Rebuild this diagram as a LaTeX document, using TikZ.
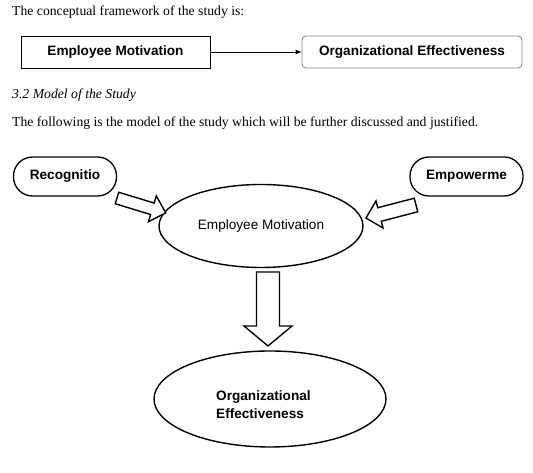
\documentclass[tikz,border=0pt]{standalone}
\usepackage{fontspec}
\setmainfont{Liberation Serif}
\setsansfont{Liberation Sans}
\usetikzlibrary{arrows.meta,shapes.geometric}
\newcommand\blockarrow[6]{% tail coordinate, angle, length, shaft width, head width, head length
  \begin{scope}[shift={(#1)},rotate=#2]
    \draw[blockarr] (0,{-#4/2}) -- ({#3-#6},{-#4/2}) -- ({#3-#6},{-#5/2}) -- (#3,0)
      -- ({#3-#6},{#5/2}) -- ({#3-#6},{#4/2}) -- (0,{#4/2}) -- cycle;
  \end{scope}}
\begin{document}
\begin{tikzpicture}[x=1pt,y=1pt,
  bodytext/.style={anchor=base west,inner sep=0pt,font=\fontsize{13.7}{16}\selectfont},
  box/.style={draw,line width=0.8pt,minimum width=189pt,minimum height=32pt,inner sep=0pt,
    font=\sffamily\bfseries\fontsize{13.6}{16}\selectfont},
  pill/.style={draw,line width=1.3pt,rounded corners=19pt,minimum height=39pt,inner sep=0pt,
    font=\sffamily\bfseries\fontsize{13.6}{16}\selectfont},
  ell/.style={ellipse,draw,line width=1.4pt,inner sep=0pt},
  blockarr/.style={draw,line width=1.4pt,line join=miter,fill=white}]
\useasboundingbox (0,0) rectangle (533,473);
\node[bodytext] (t1) at (12,457) {The conceptual framework of the study is:};
\node[box] (em) at (115.5,421) {Employee Motivation};
\node[box,rounded corners=4pt,draw=gray,minimum width=220pt] (oe) at (412,421) {Organizational Effectiveness};
\draw[line width=0.8pt,-{Latex[length=6pt,width=5pt]}] (em) -- (oe);
\node[bodytext,font=\itshape\fontsize{13.7}{16}\selectfont] (t2) at (12,374) {3.2 Model of the Study};
\node[bodytext] (t3) at (12,346) {The following is the model of the study which will be further discussed and justified.};
\node[pill,minimum width=103pt] (rec) at (65,296.5) {Recognitio};
\node[pill,minimum width=113pt] (emp) at (466.5,296.5) {Empowerme};
\node[ell,minimum width=204pt,minimum height=83pt,font=\sffamily\fontsize{13.6}{16}\selectfont] (mot) at (261,247) {Employee Motivation};
\node[ell,minimum width=232pt,minimum height=96pt] (org) at (270,74) {};
\node[anchor=north west,inner sep=0pt,align=left,font=\sffamily\bfseries\fontsize{13.6}{18}\selectfont] (orgtxt) at (216,83) {Organizational\\Effectiveness};
\coordinate (ltail) at (117,275);
\coordinate (rtail) at (416,268);
\coordinate (dtail) at (268,201);
\blockarrow{ltail}{-17}{51}{12}{27}{14}
\blockarrow{rtail}{194.6}{51.7}{14}{28}{14}
\blockarrow{dtail}{-90}{74}{23}{48}{20}
\end{tikzpicture}
\end{document}
